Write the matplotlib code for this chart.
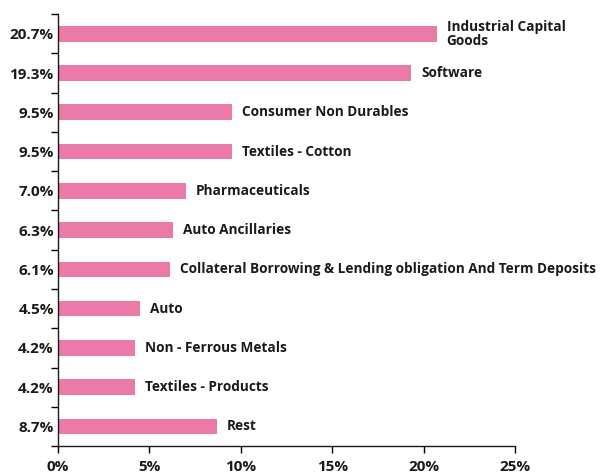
import matplotlib.pyplot as plt
import numpy as np

plt.rcParams["font.family"] = ["Open Sans", "DejaVu Sans"]

# data
sectors = [
    "Industrial Capital\nGoods",
    "Software",
    "Consumer Non Durables",
    "Textiles - Cotton",
    "Pharmaceuticals",
    "Auto Ancillaries",
    "Collateral Borrowing & Lending obligation And Term Deposits",
    "Auto",
    "Non - Ferrous Metals",
    "Textiles - Products",
    "Rest",
]
weights = [20.7, 19.3, 9.5, 9.5, 7.0, 6.3, 6.1, 4.5, 4.2, 4.2, 8.7]
pct_labels = ["20.7%", "19.3%", "9.5%", "9.5%", "7.0%", "6.3%",
              "6.1%", "4.5%", "4.2%", "4.2%", "8.7%"]
xticks = [0, 5, 10, 15, 20, 25]

fig = plt.figure(figsize=(6.04, 4.73), dpi=100)
ax = fig.add_axes([0.096, 0.057, 0.757, 0.913])

y = np.arange(len(sectors))
ax.barh(y, weights, height=0.4, color="#EC7AA8")

for yi, w, name in zip(y, weights, sectors):
    ax.text(w + 0.55, yi, name, va="center", ha="left", linespacing=1.0,
            fontsize=9.8, fontweight="bold", color="#1a1a1a")

ax.set_ylim(len(sectors) - 0.5, -0.5)
ax.set_xlim(0, 25)

ax.set_yticks(y)
ax.set_yticklabels(pct_labels, fontsize=11, fontweight="bold", color="#1a1a1a")
ax.tick_params(axis="y", which="major", length=0, pad=3)
ax.set_yticks(np.arange(-0.5, len(sectors)), minor=True)
ax.tick_params(axis="y", which="minor", length=5, width=1, direction="out")

ax.set_xticks(xticks)
ax.set_xticklabels([f"{t}%" for t in xticks], fontsize=11, fontweight="bold",
                   color="#1a1a1a")
ax.tick_params(axis="x", length=5, width=1, direction="out", pad=5)

for side in ["top", "right"]:
    ax.spines[side].set_visible(False)
for side in ["left", "bottom"]:
    ax.spines[side].set_linewidth(1)
    ax.spines[side].set_color("#1a1a1a")

fig.savefig("out.png", dpi=100)
